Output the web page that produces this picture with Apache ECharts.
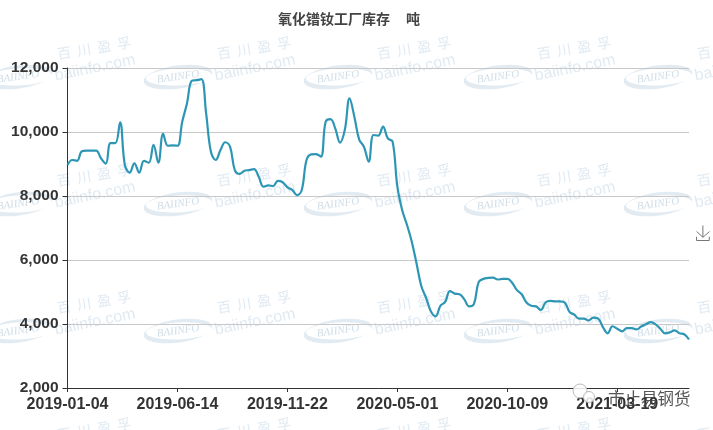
<!DOCTYPE html>
<html><head><meta charset="utf-8">
<style>html,body{margin:0;padding:0;background:#fff}#c{width:713px;height:430px}</style>
<script src="https://cdn.jsdelivr.net/npm/echarts@6/dist/echarts.min.js"></script>
</head><body><div id="c"></div>
<script>
const titleText = '氧化镨钕工厂库存     吨';
const firstDate = '2019-01-04';
const stock = [8970,9125,9100,9400,9420,9420,9420,9180,9010,9650,9650,10300,8970,8730,9020,8730,9100,9040,9600,9040,9940,9570,9580,9570,10320,10900,11600,11620,11650,10580,9380,9125,9440,9680,9540,8810,8690,8790,8810,8840,8600,8290,8330,8310,8470,8430,8270,8190,8030,8190,9125,9300,9310,9230,10320,10400,10115,9670,10060,11050,10480,9770,9540,9070,9906,9885,10170,9800,9700,8290,7560,7100,6580,5900,5190,4820,4400,4240,4570,4690,5030,4950,4930,4770,4550,4620,5310,5410,5440,5450,5390,5410,5410,5290,5060,4930,4670,4570,4550,4440,4670,4720,4710,4710,4670,4380,4290,4170,4170,4110,4200,4170,3900,3710,3930,3850,3770,3870,3870,3830,3920,3990,4060,3990,3850,3710,3740,3800,3710,3680,3515];
const dates = stock.map((_, i) => new Date(Date.parse(firstDate) + i * 7 * 864e5).toISOString().slice(0, 10));
const wmColor = 'rgba(165,195,220,0.36)';
const wmFill = '#e2ebf1';
const wmCols = [-142, 18, 178, 338, 498, 658, 818], wmRows = [-50, 77, 204, 331, 458];
const graphics = [];
wmRows.forEach(r => wmCols.forEach(cx => {
  graphics.push({type:'group', silent:true, x:cx, y:r, children:[
    {type:'ellipse', shape:{cx:0,cy:0,rx:34.5,ry:11.5}, rotation:0.14, style:{fill:wmFill}, z:-4},
    {type:'ellipse', shape:{cx:1,cy:0,rx:33,ry:8.5}, rotation:0.05, style:{fill:'#fff'}, z:-3},
    {type:'text', rotation:0.14, z:-2, style:{x:0,y:0,text:'BAIINFO',align:'center',verticalAlign:'middle',fill:'#cfdde7',font:'italic 11px "Liberation Serif"'}},
    {type:'text', x:76,y:-29, rotation:0.16, z:-2, style:{x:0,y:0,text:'百  川  盈  孚',align:'center',verticalAlign:'middle',fill:wmColor,font:'14px "Noto Sans CJK SC"'}},
    {type:'text', x:77,y:-9, rotation:0.2, z:-2, style:{x:0,y:0,text:'baiinfo.com',align:'center',verticalAlign:'middle',fill:wmColor,font:'16px "Liberation Sans"'}}
  ]});
}));
graphics.push({type:'circle', silent:true, z:20, shape:{cx:580,cy:391,r:7}, style:{fill:'rgba(255,255,255,0.85)',stroke:'#bbb',lineWidth:1}});
graphics.push({type:'circle', silent:true, z:20, shape:{cx:589,cy:397,r:5.5}, style:{fill:'rgba(255,255,255,0.85)',stroke:'#bbb',lineWidth:1}});
graphics.push({type:'text', silent:true, left:608, top:390, z:20, style:{text:'市止易钢货',fill:'#444',font:'16.5px "Noto Sans CJK SC"',opacity:0.9}});
const chart = echarts.init(document.getElementById('c'));
chart.setOption({
  animation:false,
  backgroundColor:'#fff',
  title:{text:titleText,left:273,top:7,textStyle:{fontSize:14,fontWeight:'bold',color:'#444',fontFamily:'"Noto Sans CJK SC"'}},
  grid:{left:67.5,right:24,top:68,bottom:42,containLabel:false},
  toolbox:{right:-14,top:208,orient:'vertical',feature:{saveAsImage:{title:''}},iconStyle:{borderColor:'#777'},itemSize:15},
  graphic:graphics,
  xAxis:{type:'category',data:dates,boundaryGap:false,
    axisLine:{lineStyle:{color:'#333',width:1}},axisTick:{alignWithLabel:true,interval:22,length:4,lineStyle:{color:'#333'}},
    axisLabel:{interval:22,color:'#333',fontWeight:'bold',fontSize:16,margin:9,fontFamily:'"Liberation Sans"'}},
  yAxis:{type:'value',min:2000,max:12000,interval:2000,
    axisLine:{show:true,lineStyle:{color:'#333'}},axisTick:{show:true,length:5,lineStyle:{color:'#333'}},
    axisLabel:{color:'#333',fontWeight:'bold',fontSize:15.5,margin:9,fontFamily:'"Liberation Sans"',formatter:v=>v.toLocaleString('en-US')},
    splitLine:{lineStyle:{color:'#c8c8c8'}}},
  series:[{type:'line',data:stock,smooth:0.4,symbol:'none',lineStyle:{color:'#2e96b5',width:2.2}}]
});
</script></body></html>
